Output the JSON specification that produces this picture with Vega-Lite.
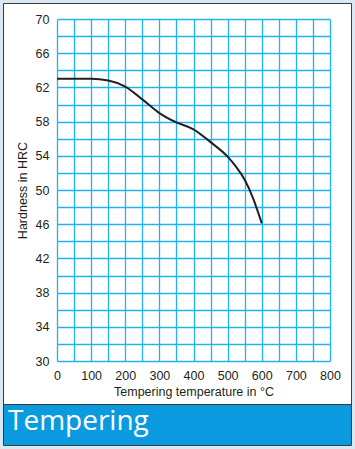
{
  "$schema": "https://vega.github.io/schema/vega-lite/v6.json",
  "autosize": "none",
  "width": 273,
  "height": 342,
  "padding": {"left": 57, "top": 19, "right": 25, "bottom": 88},
  "background": "white",
  "config": {"view": {"stroke": null}},
  "data": {"values": [
    {"T": 0, "H": 63},
    {"T": 50, "H": 63},
    {"T": 100, "H": 63},
    {"T": 150, "H": 62.8},
    {"T": 200, "H": 62.1},
    {"T": 250, "H": 60.6},
    {"T": 300, "H": 59.0},
    {"T": 350, "H": 57.9},
    {"T": 400, "H": 57.1},
    {"T": 450, "H": 55.6},
    {"T": 500, "H": 53.9},
    {"T": 525, "H": 52.7},
    {"T": 550, "H": 51.2},
    {"T": 575, "H": 49.0},
    {"T": 600, "H": 46.1}
  ]},
  "layer": [
    {
      "data": {"values": [{}]},
      "mark": {"type": "rect", "fill": null, "stroke": "#dbe7f2", "strokeWidth": 6, "clip": false},
      "encoding": {
        "x": {"datum": -167.03, "type": "quantitative"},
        "x2": {"datum": 873.26},
        "y": {"datum": 72.222, "type": "quantitative"},
        "y2": {"datum": 19.708}
      }
    },
    {
      "data": {"values": [{}]},
      "mark": {"type": "rect", "fill": "#0a9ae0", "stroke": null, "clip": false},
      "encoding": {
        "x": {"datum": -156.78, "type": "quantitative"},
        "x2": {"datum": 862.99},
        "y": {"datum": 24.912, "type": "quantitative"},
        "y2": {"datum": 20.117}
      }
    },
    {
      "data": {"values": [{}]},
      "mark": {"type": "rect", "fill": null, "stroke": "#3a3a3a", "strokeWidth": 1, "clip": false},
      "encoding": {
        "x": {"datum": -156.78, "type": "quantitative"},
        "x2": {"datum": 862.99},
        "y": {"datum": 71.813, "type": "quantitative"},
        "y2": {"datum": 20.117}
      }
    },
    {
      "data": {"values": [{}]},
      "mark": {"type": "rule", "stroke": "#3a3a3a", "strokeWidth": 1, "clip": false},
      "encoding": {
        "x": {"datum": -156.78, "type": "quantitative"},
        "x2": {"datum": 862.99},
        "y": {"datum": 24.912, "type": "quantitative"}
      }
    },
    {
      "data": {"values": [{"label": "Tempering"}]},
      "mark": {"type": "text", "align": "left", "baseline": "alphabetic", "font": "Open Sans", "fontSize": 28, "color": "white", "clip": false},
      "encoding": {
        "x": {"datum": -143.6, "type": "quantitative"},
        "y": {"datum": 21.93, "type": "quantitative"},
        "text": {"field": "label", "type": "nominal"}
      }
    },
    {
      "mark": {"type": "line", "interpolate": "monotone", "color": "#231f20", "strokeWidth": 2},
      "encoding": {
        "x": {"field": "T", "type": "quantitative",
          "scale": {"domain": [0, 800], "nice": false},
          "axis": {
            "values": [0,50,100,150,200,250,300,350,400,450,500,550,600,650,700,750,800],
            "tickCount": 100,
            "format": "d",
            "labelExpr": "datum.value % 100 == 0 ? datum.label : ''",
            "grid": true, "gridColor": "#22b3ee", "gridWidth": 1.3, "gridOpacity": 1,
            "domain": false, "ticks": false,
            "labelFont": "Liberation Sans", "labelFontSize": 12.5, "labelColor": "#231f20", "labelPadding": 8,
            "labelFlush": false, "labelOverlap": false,
            "title": "Tempering temperature in °C",
            "titleFont": "Liberation Sans", "titleFontSize": 12.5, "titleFontWeight": "normal", "titleColor": "#231f20", "titlePadding": 4
          }
        },
        "y": {"field": "H", "type": "quantitative",
          "scale": {"domain": [30, 70], "nice": false, "zero": false},
          "axis": {
            "values": [30,32,34,36,38,40,42,44,46,48,50,52,54,56,58,60,62,64,66,68,70],
            "tickCount": 100,
            "format": "d",
            "labelExpr": "(datum.value - 30) % 4 == 0 ? datum.label : ''",
            "grid": true, "gridColor": "#22b3ee", "gridWidth": 1.3, "gridOpacity": 1,
            "domain": false, "ticks": false,
            "labelFont": "Liberation Sans", "labelFontSize": 12.5, "labelColor": "#231f20", "labelPadding": 8,
            "labelFlush": false, "labelOverlap": false,
            "title": "Hardness in HRC",
            "titleFont": "Liberation Sans", "titleFontSize": 12.5, "titleFontWeight": "normal", "titleColor": "#231f20", "titlePadding": 6
          }
        }
      }
    }
  ]
}
